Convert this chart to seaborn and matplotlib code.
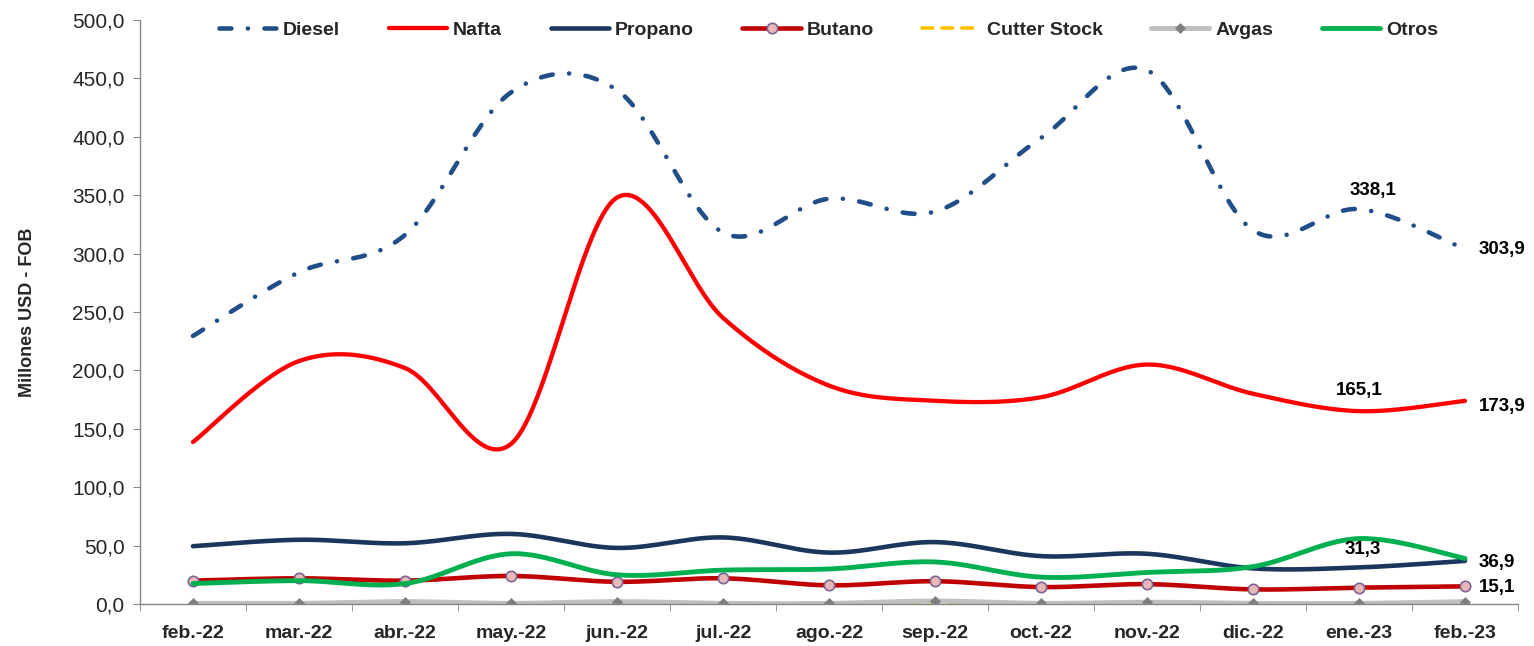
import matplotlib
matplotlib.use("Agg")
import matplotlib.pyplot as plt
from matplotlib.lines import Line2D
from matplotlib.ticker import FixedLocator, FuncFormatter
import numpy as np
import seaborn as sns

# --- data (Millones USD FOB) ---
months = ["feb.-22", "mar.-22", "abr.-22", "may.-22", "jun.-22", "jul.-22", "ago.-22",
          "sep.-22", "oct.-22", "nov.-22", "dic.-22", "ene.-23", "feb.-23"]
diesel = [229.5, 284.0, 316.0, 438.0, 440.0, 318.0, 347.0, 336.0, 399.0, 457.0, 320.0, 338.1, 303.9]
nafta = [138.7, 208.0, 202.0, 137.0, 348.0, 245.0, 187.0, 174.0, 177.0, 205.0, 180.0, 165.1, 173.9]
propano = [49.5, 55.0, 52.0, 60.0, 48.0, 57.0, 44.0, 53.0, 41.0, 43.0, 30.5, 31.3, 36.9]
butano = [20.0, 22.0, 20.0, 24.0, 19.0, 22.0, 16.0, 19.5, 14.5, 17.0, 12.5, 14.0, 15.1]
cutter_stock = [0.0, 0.0, 0.0, 0.0, 0.0, 0.0, 0.0, 0.0, 0.0, 0.0, 0.0, 0.0, 0.0]
avgas = [0.5, 0.5, 2.0, 0.5, 2.0, 0.5, 0.5, 2.5, 0.5, 1.5, 0.5, 0.5, 2.0]
otros = [17.5, 20.0, 17.5, 43.0, 25.0, 29.0, 30.0, 36.0, 23.0, 27.0, 32.0, 56.0, 39.0]


def smooth(y, n=30):
    """Excel-like smoothed line: Catmull-Rom bezier between the points."""
    y = np.asarray(y, float)
    x = np.arange(len(y), dtype=float)
    px = np.concatenate([[x[0]], x, [x[-1]]])
    py = np.concatenate([[y[0]], y, [y[-1]]])
    xs, ys = [], []
    t = np.linspace(0, 1, n)
    for i in range(1, len(px) - 2):
        p0 = np.array([px[i], py[i]])
        p3 = np.array([px[i + 1], py[i + 1]])
        c1 = p0 + (np.array([px[i + 1], py[i + 1]]) - np.array([px[i - 1], py[i - 1]])) / 6
        c2 = p3 - (np.array([px[i + 2], py[i + 2]]) - np.array([px[i], py[i]])) / 6
        b = ((1 - t) ** 3)[:, None] * p0 + (3 * (1 - t) ** 2 * t)[:, None] * c1 \
            + (3 * (1 - t) * t ** 2)[:, None] * c2 + (t ** 3)[:, None] * p3
        xs.extend(b[:, 0])
        ys.extend(b[:, 1])
    return np.array(xs), np.array(ys)


sns.set_style("white")
plt.rcParams["font.family"] = ["Liberation Sans", "DejaVu Sans"]

fig = plt.figure(figsize=(15.34, 6.46), dpi=100)
ax = fig.add_axes([140 / 1534, 1 - 604 / 646, (1518 - 140) / 1534, (604 - 20) / 646])

diesel_ls = (0, (2.6, 3.6, 0.01, 3.6))
series = [
    ("Diesel", diesel, dict(color="#1F4E89", lw=3.3, ls=diesel_ls), None),
    ("Nafta", nafta, dict(color="#FF0000", lw=3.1), None),
    ("Propano", propano, dict(color="#1B365D", lw=3.3), None),
    ("Butano", butano, dict(color="#C00000", lw=3.3),
     dict(marker="o", ms=7.5, mfc="#E6B9B8", mec="#7F6394", mew=1.2)),
    ("Cutter Stock", cutter_stock, dict(color="#FFC000", lw=2.6, ls=(0, (3, 2.5))), None),
    ("Avgas", avgas, dict(color="#BFBFBF", lw=3.6),
     dict(marker="D", ms=5.5, mfc="#7F7F7F", mec="#7F7F7F", mew=0.5)),
    ("Otros", otros, dict(color="#00B050", lw=3.5), None),
]

handles = []
for name, vals, style, mk in series:
    xs, ys = smooth(vals)
    sns.lineplot(x=xs, y=ys, ax=ax, color=style["color"], linewidth=style["lw"],
                 sort=False, estimator=None)
    ln = ax.lines[-1]
    if "ls" in style:
        ln.set_linestyle(style["ls"])
        ln.set_dash_capstyle("round")
    ln.set_solid_capstyle("round")
    if mk:
        ax.plot(range(len(vals)), vals, ls="none", **mk)
        handles.append(Line2D([], [], color=style["color"], lw=style["lw"],
                              ls=style.get("ls", "-"), **mk))
    else:
        handles.append(Line2D([], [], color=style["color"], lw=style["lw"],
                              ls=style.get("ls", "-"), dash_capstyle="round"))

# axes
ax.set_xlim(-0.5, 12.5)
ax.set_ylim(0, 500)
ax.set_yticks(np.arange(0, 501, 50))
ax.yaxis.set_major_formatter(FuncFormatter(lambda v, p: f"{v:.1f}".replace(".", ",")))
ax.set_xticks(range(len(months)))
ax.set_xticklabels(months, fontweight="bold", fontsize=14)
ax.xaxis.set_minor_locator(FixedLocator(np.arange(-0.5, 13, 1)))
ax.tick_params(axis="x", which="major", length=0, pad=15)
ax.tick_params(axis="x", which="minor", length=5, color="#868686", direction="out", bottom=True)
ax.tick_params(axis="y", length=5, color="#868686", direction="out", left=True,
               labelsize=15, pad=6)
for side in ["top", "right"]:
    ax.spines[side].set_visible(False)
for side in ["left", "bottom"]:
    ax.spines[side].set_color("#868686")
    ax.spines[side].set_linewidth(1.0)
ax.set_ylabel("Millones USD - FOB", fontsize=13, fontweight="bold", labelpad=26)
ax.grid(False)

# data labels
lbl = dict(fontsize=13.5, fontweight="bold", color="black")
ax.annotate("338,1", (11, diesel[11]), xytext=(10, 7), textcoords="offset points",
            ha="center", va="bottom", **lbl)
ax.annotate("303,9", (12, diesel[12]), xytext=(10, 0), textcoords="offset points",
            ha="left", va="center", **lbl)
ax.annotate("165,1", (11, nafta[11]), xytext=(0, 9), textcoords="offset points",
            ha="center", va="bottom", **lbl)
ax.annotate("173,9", (12, nafta[12]), xytext=(10, -4), textcoords="offset points",
            ha="left", va="center", **lbl)
ax.annotate("31,3", (11, propano[11]), xytext=(3, 7), textcoords="offset points",
            ha="center", va="bottom", **lbl)
ax.annotate("36,9", (12, propano[12]), xytext=(10, -1), textcoords="offset points",
            ha="left", va="center", **lbl)
ax.annotate("15,1", (12, butano[12]), xytext=(10, -1), textcoords="offset points",
            ha="left", va="center", **lbl)

fig.legend(handles, [s[0] for s in series], loc="center", bbox_to_anchor=(0.540, 0.953),
           ncol=7, frameon=False, handlelength=3.0, columnspacing=2.5, handletextpad=0.3,
           prop=dict(weight="bold", size=14))

fig.savefig("out.png", dpi=100)
